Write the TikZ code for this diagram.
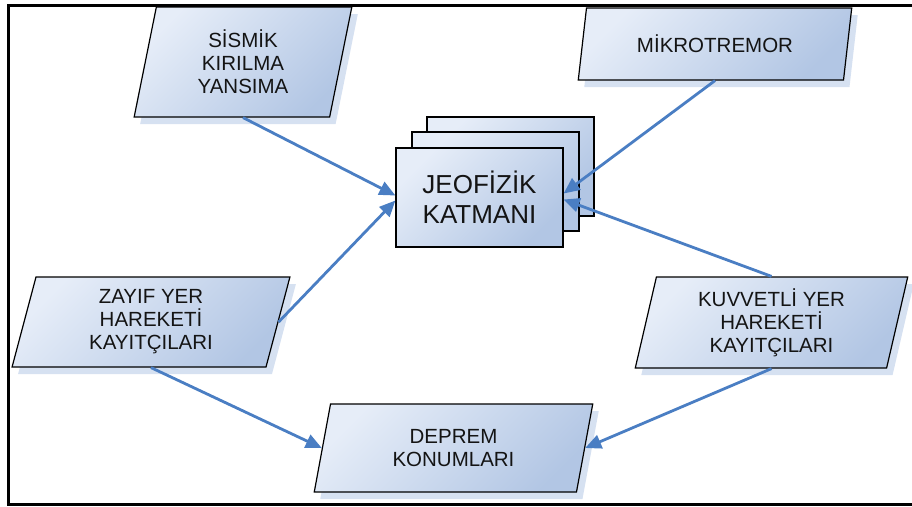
\documentclass[tikz,border=0pt]{standalone}
\usepackage{fontspec}
\setmainfont{Liberation Sans}
\usetikzlibrary{shapes.geometric,shadows,arrows.meta}
\definecolor{boxlight}{RGB}{230,237,248}
\definecolor{boxdark}{RGB}{178,198,228}
\definecolor{shadowc}{RGB}{214,225,241}
\definecolor{arrowc}{RGB}{74,126,195}
\definecolor{txt}{RGB}{20,20,20}
\tikzset{
  para/.style={trapezium, trapezium stretches=true, draw=black, line width=1.2pt,
    top color=boxlight, bottom color=boxdark, shading angle=45,
    align=center, text=txt, font=\fontsize{20.5}{23}\selectfont, inner sep=0pt,
    general shadow={fill=shadowc, draw=none, shadow xshift=6pt, shadow yshift=-7pt}},
  layer/.style={rectangle, draw=black, line width=1.2pt,
    top color=boxlight, bottom color=boxdark, shading angle=45,
    minimum width=167pt, minimum height=99pt, inner sep=0pt},
  link/.style={draw=arrowc, line width=2.8pt, -{Triangle[length=16pt,width=14pt]}},
  frameline/.style={draw=black, line width=3pt}
}
\begin{document}
\begin{tikzpicture}[x=1pt,y=-1pt]
\useasboundingbox (0,0) rectangle (912,506);
\draw[frameline] (912,5) -- (8,5) -- (8,504) -- (912,504);

\node[para, trapezium left angle=79.7, trapezium right angle=100.3,
  minimum width=218pt, minimum height=110pt] (sis) at (243,62) {SİSMİK\\KIRILMA\\YANSIMA};
\node[para, trapezium left angle=74.5, trapezium right angle=105.5,
  minimum width=274pt, minimum height=72pt] (mik) at (715,44) {MİKROTREMOR};
\node[para, trapezium left angle=78.7, trapezium right angle=101.3,
  minimum width=278pt, minimum height=90pt] (zay) at (151,322) {ZAYIF YER\\HAREKETİ\\KAYITÇILARI};
\node[para, trapezium left angle=78.8, trapezium right angle=101.2,
  minimum width=273pt, minimum height=91pt] (kuv) at (771.5,322.5) {KUVVETLİ YER\\HAREKETİ\\KAYITÇILARI};
\node[para, trapezium left angle=77.8, trapezium right angle=102.2,
  minimum width=279pt, minimum height=88pt] (dep) at (453.5,448) {DEPREM\\KONUMLARI};

\node[layer] (jeo3) at (510.5,166.5) {};
\node[layer] (jeo2) at (495.5,181.5) {};
\node[layer, align=center, text=txt, font=\fontsize{26}{30}\selectfont] (jeo) at (479.5,197.5) {JEOFİZİK\\KATMANI};

\draw[link] (sis.south) -- ([yshift=2pt]jeo.west);
\draw[link] (zay.east) -- ([yshift=-3pt]jeo.west);
\draw[link] (mik.south) -- ([yshift=4pt]jeo.east);
\draw[link] (kuv.north) -- ([yshift=-2pt]jeo.east);
\draw[link] (zay.south) -- (dep.west);
\draw[link] (kuv.south) -- (dep.east);
\end{tikzpicture}
\end{document}
